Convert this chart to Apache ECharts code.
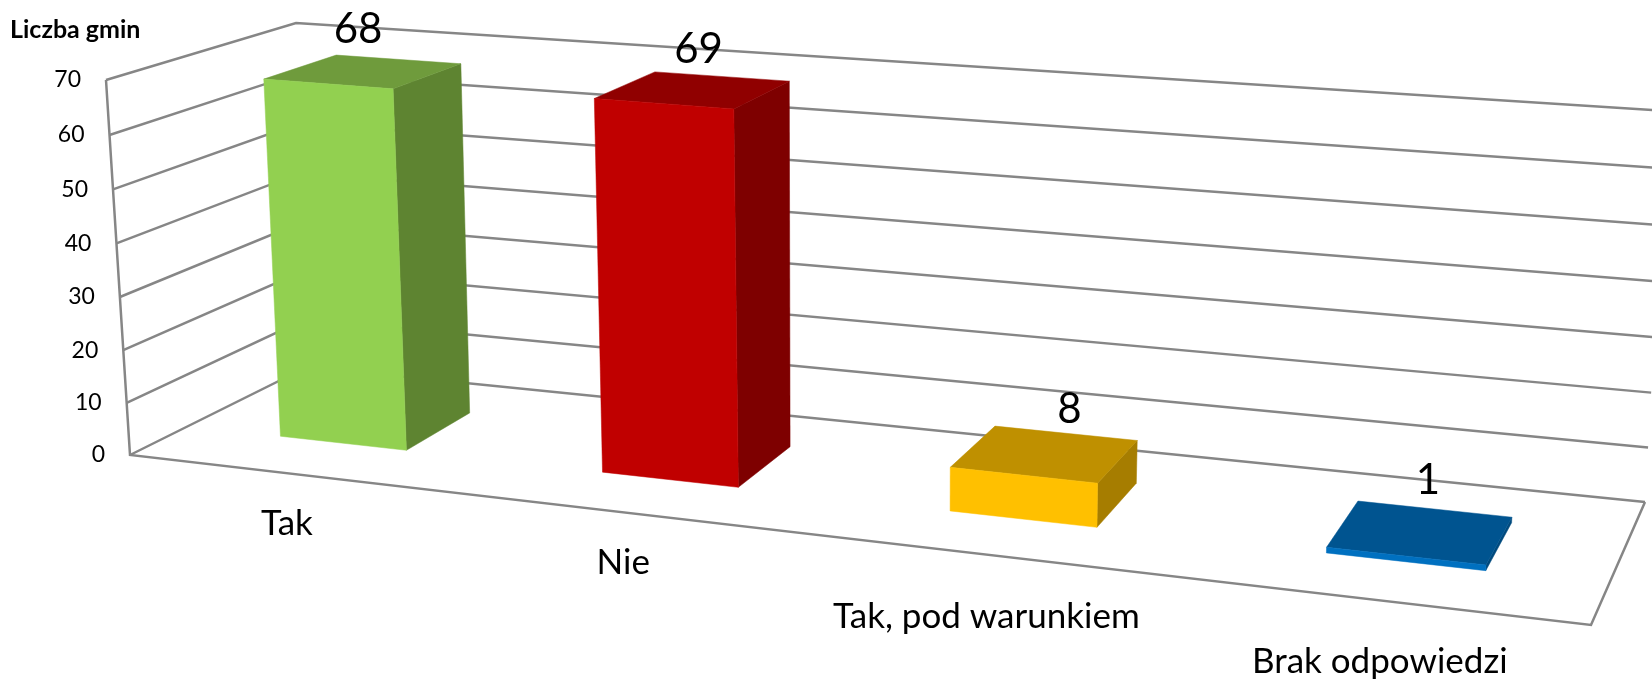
<!DOCTYPE html>
<html>
<head>
<meta charset="utf-8">
<style>
  html, body { margin: 0; padding: 0; background: #fff; }
  #chart { width: 1652px; height: 679px; }
</style>
<script src="https://cdn.jsdelivr.net/npm/echarts@6/dist/echarts.min.js"></script>
</head>
<body>
<div id="chart"></div>
<script>
const categories = ["Tak", "Nie", "Tak, pod warunkiem", "Brak odpowiedzi"];
const values = [68, 69, 8, 1];
const yTicks = [0, 10, 20, 30, 40, 50, 60, 70];
const yMax = 70;

// kolory: przód, góra, bok
const frontColors = ["#92D050", "#C00000", "#FFC000", "#0070C0"];
const topColors = ["#6F9B3C", "#900000", "#BF9000", "#005490"];
const sideColors = ["#5E8431", "#7E0000", "#A67D00", "#004A7E"];

// Narożniki "pudełka" wykresu 3D na ekranie [x, y]
const box = {
    frontBottomLeft: [130, 455],
    frontBottomRight: [1591, 625],
    frontTopLeft: [106, 80],
    frontTopRight: [1609, 199],
    backBottomLeft: [307, 367],
    backBottomRight: [1645, 502],
    backTopLeft: [296, 23],
    backTopRight: [1667, 111],
};
const perspX = 1.17;
const perspY = 1.03;
const barFrontDepth = 0.33;
const barBackDepth = 0.73;
const barHalfWidth = 0.2;

const lineColor = "#868686";
const textFont = "Lato, Carlito, sans-serif";

const catLabelGap = [50, 50, 62, 61];
const valueLabelShift = [[-5, -42], [6, -41], [25, -45], [8, -52]];

const persp = (t, k) => t / (t + k * (1 - t));
const lerp = (a, b, t) => [a[0] + (b[0] - a[0]) * t, a[1] + (b[1] - a[1]) * t];

// skala osi ECharts -> współrzędne pudełka -> ekran
function project(api, cat, val, depth) {
    const p = api.coord([cat, val]);
    const o = api.coord([0, 0]);
    const e = api.coord([categories.length, yMax]);
    const u = persp((p[0] - o[0]) / (e[0] - o[0]), perspX);
    const v = persp((p[1] - o[1]) / (e[1] - o[1]), perspY);
    const bottom = lerp(lerp(box.frontBottomLeft, box.frontBottomRight, u), lerp(box.backBottomLeft, box.backBottomRight, u), depth);
    const top = lerp(lerp(box.frontTopLeft, box.frontTopRight, u), lerp(box.backTopLeft, box.backTopRight, u), depth);
    return lerp(bottom, top, v);
}

const stroke = { stroke: lineColor, lineWidth: 2.5, fill: null };

function renderWall(params, api) {
    const val = api.value(0);
    const n = categories.length;
    const a = project(api, 0, val, 0);
    const b = project(api, 0, val, 1);
    const c = project(api, n, val, 1);
    return {
        type: "group",
        children: [
            { type: "polyline", shape: { points: [a, b, c] }, style: stroke },
            {
                type: "text",
                style: {
                    text: String(val), x: a[0] - 25, y: a[1],
                    align: "right", verticalAlign: "middle",
                    fill: "#000", font: "23px " + textFont,
                },
            },
        ],
    };
}

function renderFloor(params, api) {
    const n = categories.length;
    return {
        type: "group",
        children: [
            {
                type: "polyline",
                shape: {
                    points: [
                        project(api, 0, yMax, 0), project(api, 0, 0, 0),
                        project(api, n, 0, 0), project(api, n, 0, 1),
                    ],
                },
                style: stroke,
            },
        ],
    };
}

function renderBar(params, api) {
    const i = params.dataIndex;
    const mid = api.value(0);
    const val = api.value(1);
    const l = mid - barHalfWidth;
    const r = mid + barHalfWidth;
    const f = barFrontDepth;
    const k = barBackDepth;
    const poly = (points, fill) => ({
        type: "polygon",
        shape: { points },
        style: { fill, stroke: fill, lineWidth: 0.5 },
    });
    return {
        type: "group",
        children: [
            poly([project(api, r, 0, f), project(api, r, 0, k), project(api, r, val, k), project(api, r, val, f)], sideColors[i]),
            poly([project(api, l, val, f), project(api, r, val, f), project(api, r, val, k), project(api, l, val, k)], topColors[i]),
            poly([project(api, l, 0, f), project(api, r, 0, f), project(api, r, val, f), project(api, l, val, f)], frontColors[i]),
        ],
    };
}

function renderLabels(params, api) {
    const i = params.dataIndex;
    const mid = api.value(0);
    const val = api.value(1);
    const axisPos = project(api, mid, 0, 0);
    const topPos = project(api, mid, val, (barFrontDepth + barBackDepth) / 2);
    return {
        type: "group",
        children: [
            {
                type: "text",
                style: {
                    text: categories[i], x: axisPos[0] - 2, y: axisPos[1] + catLabelGap[i],
                    align: "center", verticalAlign: "middle",
                    fill: "#000", font: "35px " + textFont,
                },
            },
            {
                type: "text",
                style: {
                    text: String(values[i]),
                    x: topPos[0] + valueLabelShift[i][0], y: topPos[1] + valueLabelShift[i][1],
                    align: "center", verticalAlign: "middle",
                    fill: "#000", font: "42px " + textFont,
                },
            },
        ],
    };
}

const barData = values.map((v, i) => [i + 0.5, v]);

const chart = echarts.init(document.getElementById("chart"), null, { renderer: "canvas" });
chart.setOption({
    backgroundColor: "#fff",
    animation: false,
    title: {
        text: "Liczba gmin",
        left: 5,
        top: 12,
        textStyle: { fontFamily: textFont, fontSize: 25, fontWeight: "bold", color: "#000" },
    },
    grid: { left: 0, right: 0, top: 0, bottom: 0 },
    xAxis: { type: "value", min: 0, max: categories.length, show: false },
    yAxis: { type: "value", min: 0, max: yMax, interval: 10, show: false },
    series: [
        { type: "custom", name: "siatka", silent: true, z: 1, clip: false, data: yTicks.map((t) => [t]), encode: { x: -1, y: 0 }, renderItem: renderWall },
        { type: "custom", name: "podstawa", silent: true, z: 2, clip: false, data: [[0]], encode: { x: -1, y: -1 }, renderItem: renderFloor },
        { type: "custom", name: "Liczba gmin", z: 3, clip: false, data: barData, encode: { x: 0, y: 1 }, renderItem: renderBar },
        { type: "custom", name: "etykiety", silent: true, z: 4, clip: false, data: barData, encode: { x: 0, y: 1 }, renderItem: renderLabels },
    ],
});
</script>
</body>
</html>
